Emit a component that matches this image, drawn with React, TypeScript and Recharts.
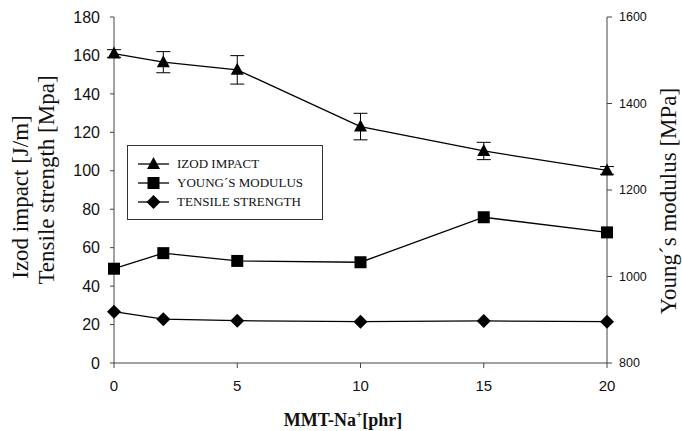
import { ComposedChart, Line, XAxis, YAxis, ErrorBar } from "recharts";

const mmt = [0, 2, 5, 10, 15, 20];
const izodImpact = [161, 156.5, 152.5, 123, 110.3, 100.2];
const izodError = [2, 5.5, 7.4, 6.9, 4.5, 2];
const youngsModulus = [1018, 1054, 1036, 1033, 1137, 1102];
const tensileStrength = [26.7, 22.8, 22, 21.5, 21.9, 21.5];

const leftTicks = [0, 20, 40, 60, 80, 100, 120, 140, 160, 180];
const rightTicks = [800, 1000, 1200, 1400, 1600];
const xTicks = [0, 5, 10, 15, 20];

const data = mmt.map((x, i) => ({
  x,
  izod: izodImpact[i],
  izodErr: izodError[i],
  young: youngsModulus[i],
  tensile: tensileStrength[i],
}));

const serif = "'Liberation Serif', 'Times New Roman', serif";
const sans = "'Liberation Sans', Arial, sans-serif";

const triangle = (cx: number, cy: number) => `M${cx},${cy - 7} L${cx + 6.5},${cy + 5} L${cx - 6.5},${cy + 5} Z`;
const square = (cx: number, cy: number) => `M${cx - 6},${cy - 6} h12 v12 h-12 Z`;
const diamond = (cx: number, cy: number) => `M${cx},${cy - 7} L${cx + 7},${cy} L${cx},${cy + 7} L${cx - 7},${cy} Z`;

const makeDot = (shape: (cx: number, cy: number) => string) => (props: any) => (
  <path key={props.index} d={shape(props.cx, props.cy)} fill="#000" stroke="none" />
);

const legendItems = [
  { label: "IZOD IMPACT", shape: triangle },
  { label: "YOUNG\u00b4S MODULUS", shape: square },
  { label: "TENSILE STRENGTH", shape: diamond },
];

// legend box sits over the plot, like the original figure
function LegendBox() {
  return (
    <div
      style={{
        position: "absolute",
        left: 127,
        top: 145,
        width: 196,
        height: 75,
        border: "1px solid #333",
        background: "#fff",
        boxSizing: "border-box",
        paddingTop: 8,
      }}
    >
      {legendItems.map(item => (
        <div key={item.label} style={{ display: "flex", alignItems: "center", height: 19 }}>
          <svg width={49} height={16}>
            <line x1={10} x2={41} y1={8} y2={8} stroke="#000" strokeWidth={1.3} />
            <path d={item.shape(25.5, 8)} fill="#000" />
          </svg>
          <span style={{ fontFamily: serif, fontSize: 13, color: "#111", lineHeight: "16px" }}>
            {item.label}
          </span>
        </div>
      ))}
    </div>
  );
}

export default function App() {
  return (
    <div style={{ position: "absolute", left: 0, top: 0, width: 682, height: 431, background: "#fff" }}>
      <ComposedChart width={682} height={431} data={data} margin={{ top: 17, right: 0, bottom: 0, left: 0 }}>
        <XAxis
          dataKey="x"
          type="number"
          domain={[0, 20]}
          ticks={xTicks}
          height={68}
          stroke="#444"
          tickSize={5}
          tickMargin={12}
          tick={{ fontSize: 15, fontFamily: sans, fill: "#111" }}
          label={{
            content: () => (
              <text x={343} y={426} textAnchor="middle" fontFamily={serif} fontWeight="bold" fontSize={18} fill="#111">
                MMT-Na
                <tspan fontSize={11} dy={-8}>+</tspan>
                <tspan dy={8}>[phr]</tspan>
              </text>
            ),
          }}
        />
        <YAxis
          yAxisId="left"
          domain={[0, 180]}
          ticks={leftTicks}
          width={114}
          stroke="#444"
          tickSize={4}
          tickMargin={10}
          tick={{ fontSize: 16, fontFamily: sans, fill: "#111" }}
          label={{
            content: () => (
              <g>
                <text x={28} y={197} textAnchor="middle" transform="rotate(-90, 28, 197)" fontFamily={serif} fontSize={23} fill="#111">
                  Izod impact [J/m]
                </text>
                <text x={54} y={180} textAnchor="middle" transform="rotate(-90, 54, 180)" fontFamily={serif} fontSize={23} fill="#111">
                  Tensile strength [Mpa]
                </text>
              </g>
            ),
          }}
        />
        <YAxis
          yAxisId="right"
          orientation="right"
          domain={[800, 1600]}
          ticks={rightTicks}
          width={75}
          stroke="#444"
          tickSize={5}
          tickMargin={7}
          tick={{ fontSize: 12.5, fontFamily: sans, fill: "#111" }}
          label={{
            content: () => (
              <text
                x={676}
                y={201}
                textAnchor="middle"
                transform="rotate(-90, 676, 201)"
                fontFamily={serif}
                fontSize={23}
                fill="#111"
              >
                Young´s modulus [MPa]
              </text>
            ),
          }}
        />
        <Line
          yAxisId="left"
          dataKey="izod"
          stroke="#000"
          strokeWidth={1.3}
          dot={makeDot(triangle)}
          activeDot={false}
          isAnimationActive={false}
        >
          <ErrorBar dataKey="izodErr" direction="y" width={7} stroke="#000" strokeWidth={1} isAnimationActive={false} />
        </Line>
        <Line
          yAxisId="right"
          dataKey="young"
          stroke="#000"
          strokeWidth={1.3}
          dot={makeDot(square)}
          activeDot={false}
          isAnimationActive={false}
        />
        <Line
          yAxisId="left"
          dataKey="tensile"
          stroke="#000"
          strokeWidth={1.3}
          dot={makeDot(diamond)}
          activeDot={false}
          isAnimationActive={false}
        />
      </ComposedChart>
      <LegendBox />
    </div>
  );
}
